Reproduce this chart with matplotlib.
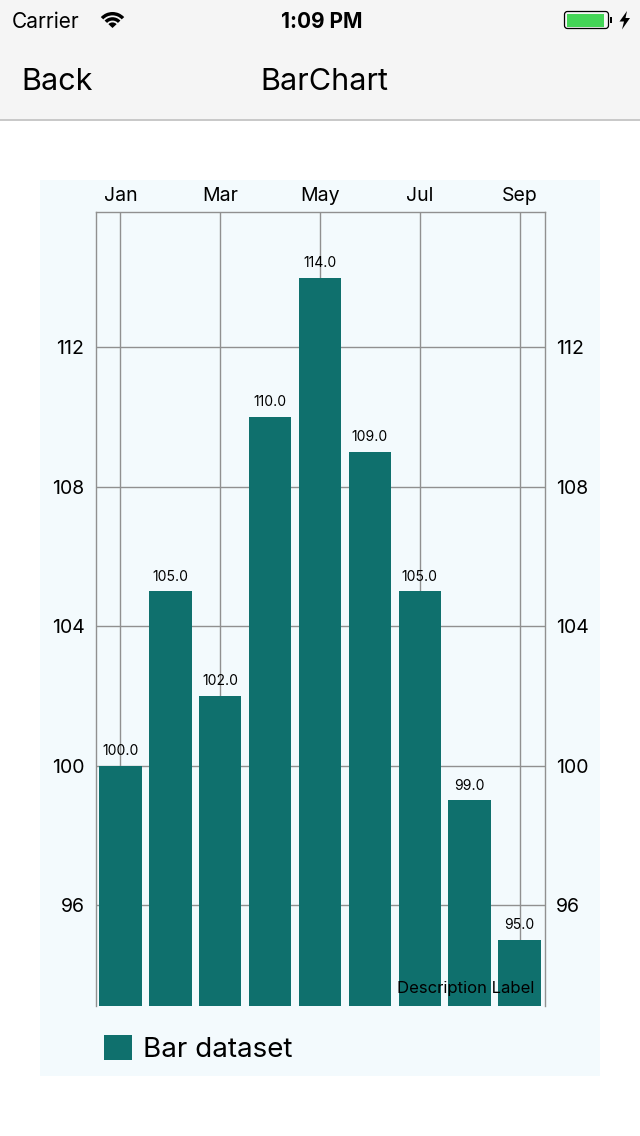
import matplotlib
matplotlib.use("Agg")
import matplotlib.pyplot as plt
from matplotlib.patches import Rectangle, FancyBboxPatch, Wedge, Polygon

W, H = 640, 1136

months = ["Jan", "Feb", "Mar", "Apr", "May", "Jun", "Jul", "Aug", "Sep"]
values = [100.0, 105.0, 102.0, 110.0, 114.0, 109.0, 105.0, 99.0, 95.0]
y_ticks = [96, 100, 104, 108, 112]
dataset_label = "Bar dataset"

BAR_COLOR = "#0F706D"
PANEL_COLOR = "#F3FAFD"
GRID_COLOR = "#909090"

plt.rcParams["font.family"] = ["Inter", "DejaVu Sans"]


def px(x, y):
    """ピクセル座標を figure 座標に変換"""
    return x / W, 1 - y / H


def main():
    fig = plt.figure(figsize=(W / 100, H / 100), dpi=100, facecolor="white")

    # 画面全体の UI 用の軸 (ピクセル座標, y は下向き)
    ui = fig.add_axes([0, 0, 1, 1])
    ui.set_xlim(0, W)
    ui.set_ylim(H, 0)
    ui.axis("off")

    # ナビゲーションバー
    ui.add_patch(Rectangle((0, 0), W, 119, color="#F5F5F5", lw=0))
    ui.plot([0, W], [119.5, 119.5], color="#C8C8C8", lw=1.4)

    # wifi アイコン
    cx, cy = 112.5, 28
    ui.add_patch(Wedge((cx, cy), 16, 223, 317, width=3.4, color="black", lw=0))
    ui.add_patch(Wedge((cx, cy), 10.8, 223, 317, width=3.4, color="black", lw=0))
    ui.add_patch(Wedge((cx, cy), 5.6, 223, 317, color="black", lw=0))

    # バッテリー
    ui.add_patch(FancyBboxPatch((564.5, 11.5), 44, 17, boxstyle="round,pad=0,rounding_size=3",
                                fc="none", ec="black", lw=0.9))
    ui.add_patch(Rectangle((566.5, 13.5), 37.5, 13, color="#44D557", lw=0))
    ui.add_patch(Rectangle((609.5, 17), 2.2, 6, color="black", lw=0))
    ui.add_patch(Polygon([(627, 11), (619.5, 21.5), (624, 21.5), (622, 29.5),
                          (630, 18), (625.5, 18)], closed=True, color="black", lw=0))

    # チャートの背景パネル
    ui.add_patch(Rectangle((40, 180), 560, 895.5, color=PANEL_COLOR, lw=0))

    fig.text(*px(12, 28), "Carrier", fontsize=15, va="baseline", ha="left")
    fig.text(*px(322, 28), "1:09 PM", fontsize=15, fontweight="bold", va="baseline", ha="center")
    fig.text(*px(21, 90), "Back", fontsize=22, va="baseline", ha="left")
    fig.text(*px(324, 90), "BarChart", fontsize=22, va="baseline", ha="center")

    # 棒グラフ本体
    left, right, top, bottom = 95.5, 544.5, 211.5, 1006
    ax = fig.add_axes([left / W, 1 - bottom / H, (right - left) / W, (bottom - top) / H])
    ax.set_facecolor("none")

    x = range(len(months))
    bars = ax.bar(x, values, width=0.85, color=BAR_COLOR, zorder=2)
    ax.bar_label(bars, fmt="%.1f", padding=5.5, fontsize=10)

    ax.set_xlim(-0.5, len(months) - 0.5)
    ax.set_ylim(93.1, 115.9)

    ax.set_xticks(list(x)[::2])
    ax.set_xticklabels(months[::2])
    ax.xaxis.set_ticks_position("top")
    ax.tick_params(axis="x", length=0, pad=5, labelsize=14, labeltop=True, labelbottom=False)

    ax.set_yticks(y_ticks)
    ax.tick_params(axis="y", length=0, pad=8, labelsize=14,
                   left=True, right=True, labelleft=True, labelright=True)

    ax.set_axisbelow(True)
    ax.grid(True, color=GRID_COLOR, lw=1.0)

    for side in ["top", "left", "right"]:
        ax.spines[side].set_color(GRID_COLOR)
        ax.spines[side].set_linewidth(1.0)
    ax.spines["bottom"].set_visible(False)

    fig.text(*px(534, 993), "Description Label", fontsize=12, ha="right", va="baseline")

    ax.legend([bars], [dataset_label], loc="center left",
              bbox_to_anchor=px(104, 1049), bbox_transform=fig.transFigure,
              frameon=False, fontsize=20, handlelength=1.0, handleheight=1.0,
              handletextpad=0.4, borderpad=0, borderaxespad=0)

    fig.savefig("out.png", dpi=100)


if __name__ == "__main__":
    main()
